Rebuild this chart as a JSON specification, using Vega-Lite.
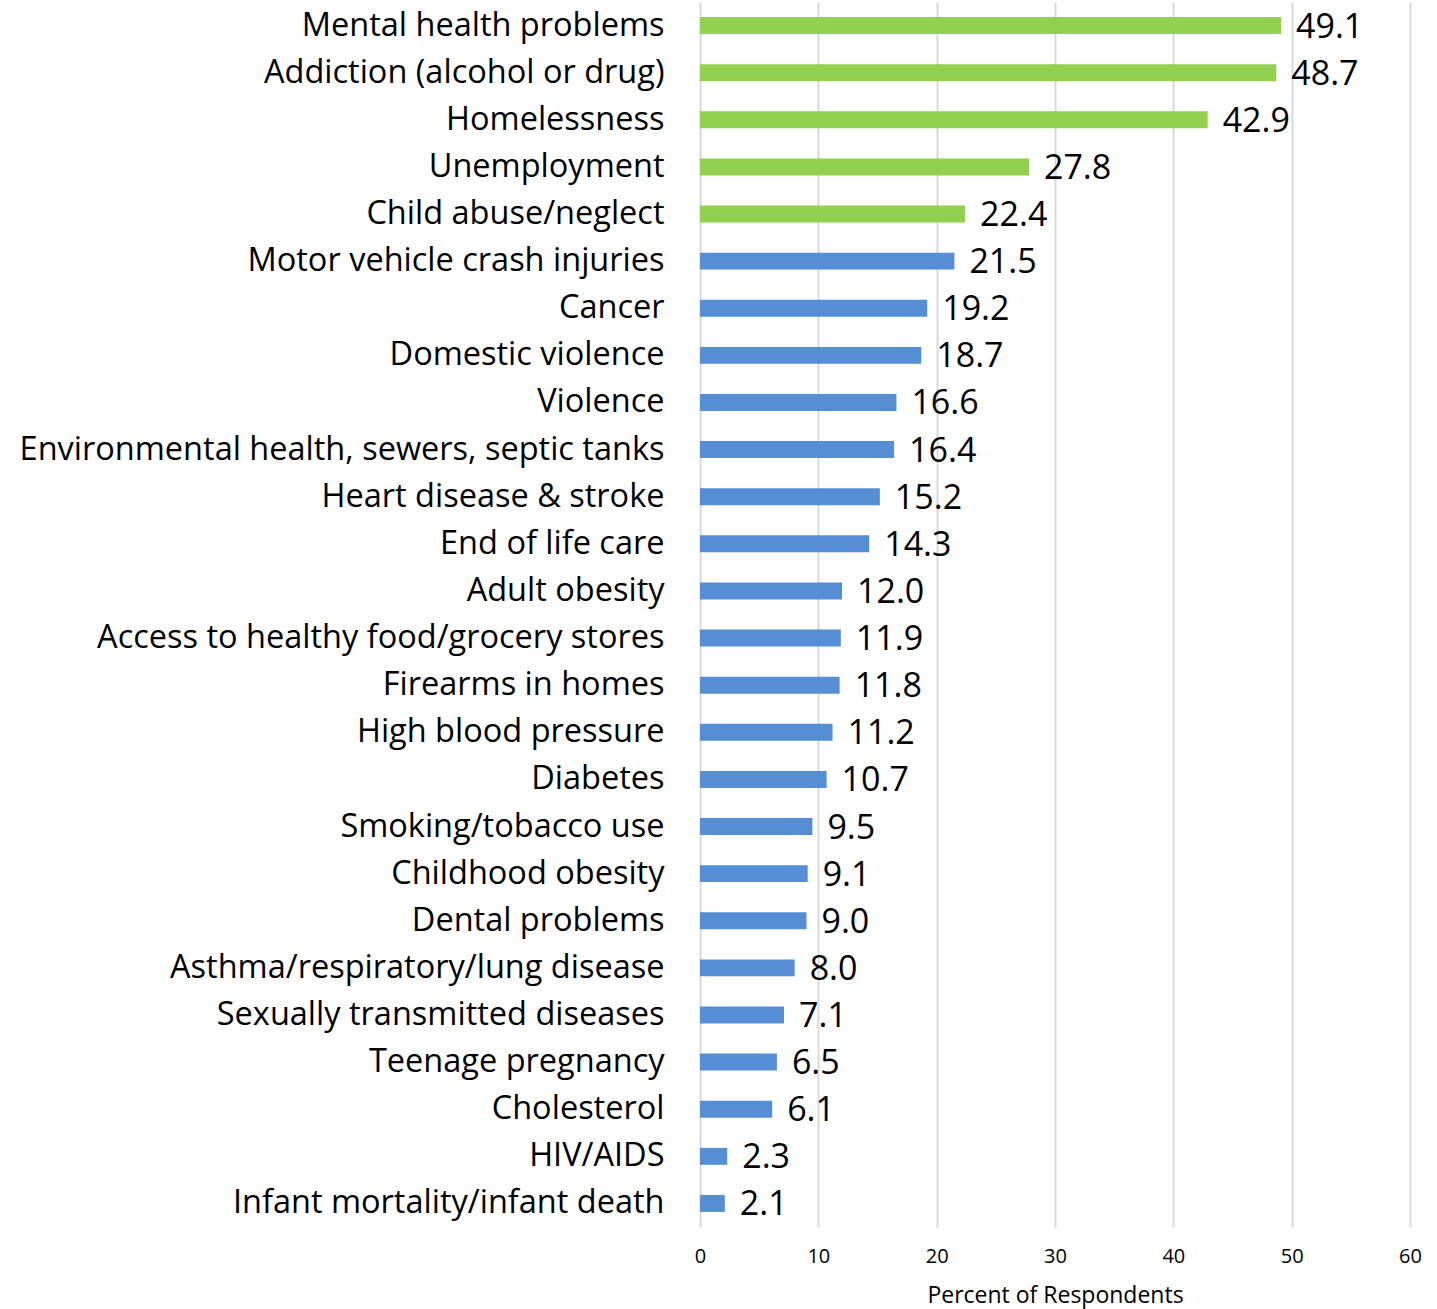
{
  "$schema": "https://vega.github.io/schema/vega-lite/v6.json",
  "autosize": {"type": "none"},
  "width": 710,
  "height": 1225,
  "padding": {"left": 700, "top": 2, "right": 27, "bottom": 82},
  "background": "white",
  "config": {"view": {"stroke": null}, "font": "Open Sans"},
  "data": {"values": [
    {"issue": "Mental health problems", "pct": 49.1, "grp": "top"},
    {"issue": "Addiction (alcohol or drug)", "pct": 48.7, "grp": "top"},
    {"issue": "Homelessness", "pct": 42.9, "grp": "top"},
    {"issue": "Unemployment", "pct": 27.8, "grp": "top"},
    {"issue": "Child abuse/neglect", "pct": 22.4, "grp": "top"},
    {"issue": "Motor vehicle crash injuries", "pct": 21.5, "grp": "other"},
    {"issue": "Cancer", "pct": 19.2, "grp": "other"},
    {"issue": "Domestic violence", "pct": 18.7, "grp": "other"},
    {"issue": "Violence", "pct": 16.6, "grp": "other"},
    {"issue": "Environmental health, sewers, septic tanks", "pct": 16.4, "grp": "other"},
    {"issue": "Heart disease & stroke", "pct": 15.2, "grp": "other"},
    {"issue": "End of life care", "pct": 14.3, "grp": "other"},
    {"issue": "Adult obesity", "pct": 12.0, "grp": "other"},
    {"issue": "Access to healthy food/grocery stores", "pct": 11.9, "grp": "other"},
    {"issue": "Firearms in homes", "pct": 11.8, "grp": "other"},
    {"issue": "High blood pressure", "pct": 11.2, "grp": "other"},
    {"issue": "Diabetes", "pct": 10.7, "grp": "other"},
    {"issue": "Smoking/tobacco use", "pct": 9.5, "grp": "other"},
    {"issue": "Childhood obesity", "pct": 9.1, "grp": "other"},
    {"issue": "Dental problems", "pct": 9.0, "grp": "other"},
    {"issue": "Asthma/respiratory/lung disease", "pct": 8.0, "grp": "other"},
    {"issue": "Sexually transmitted diseases", "pct": 7.1, "grp": "other"},
    {"issue": "Teenage pregnancy", "pct": 6.5, "grp": "other"},
    {"issue": "Cholesterol", "pct": 6.1, "grp": "other"},
    {"issue": "HIV/AIDS", "pct": 2.3, "grp": "other"},
    {"issue": "Infant mortality/infant death", "pct": 2.1, "grp": "other"}
  ]},
  "encoding": {
    "y": {
      "field": "issue", "type": "nominal", "sort": null,
      "scale": {"paddingInner": 0.64, "paddingOuter": 0.32},
      "axis": {"title": null, "domain": false, "ticks": false, "labelFontSize": 32.5, "labelColor": "#000000", "labelPadding": 36, "labelLimit": 800}
    },
    "x": {
      "field": "pct", "type": "quantitative",
      "scale": {"domain": [0, 60], "nice": false},
      "axis": {"title": "Percent of Respondents", "values": [0, 10, 20, 30, 40, 50, 60], "grid": true, "gridColor": "#d9d9d9", "gridWidth": 2, "domain": false, "ticks": false, "labelFlush": false, "labelFontSize": 20, "labelColor": "#000000", "labelPadding": 19, "titleFontSize": 23, "titleFontWeight": "normal", "titleColor": "#000000", "titlePadding": 18}
    }
  },
  "layer": [
    {
      "mark": {"type": "bar"},
      "encoding": {
        "color": {"field": "grp", "type": "nominal", "scale": {"domain": ["top", "other"], "range": ["#92D050", "#558ED5"]}, "legend": null}
      }
    },
    {
      "mark": {"type": "text", "align": "left", "baseline": "middle", "dx": 15, "dy": 2, "fontSize": 34, "color": "#000000"},
      "encoding": {"text": {"field": "pct", "type": "quantitative", "format": ".1f"}}
    }
  ]
}
